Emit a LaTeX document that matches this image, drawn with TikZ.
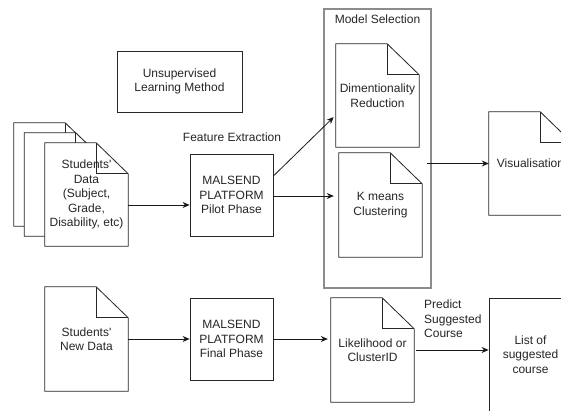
\documentclass[tikz,border=0pt]{standalone}
\usepackage{fontspec}
\setmainfont{Liberation Sans}
\usetikzlibrary{calc,arrows.meta}
\tikzset{
  lineclr/.style={draw=black!85, line width=0.8pt},
  box/.style={lineclr, rectangle, inner sep=0pt, align=center, text=black!85},
  docnode/.style={rectangle, inner sep=0pt, minimum width=83pt, minimum height=103pt, align=center, text=black!85},
  lbl/.style={inner sep=0pt, text=black!85},
  arr/.style={draw=black!90, line width=0.8pt, -{Stealth[length=7pt,width=6pt]}},
  grp/.style={draw=black!45, line width=1.3pt, rectangle, inner sep=0pt}
}
\newcommand\docout[1]{%
  \filldraw[lineclr, fill=white] (#1.north west) -- ($(#1.north east)+(-32,0)$) -- ($(#1.north east)+(0,31)$) -- (#1.south east) -- (#1.south west) -- cycle;
  \draw[lineclr] ($(#1.north east)+(-32,0)$) |- ($(#1.north east)+(0,31)$);}
\newcommand\apos{\textquotesingle}
\begin{document}
\begin{tikzpicture}[x=1pt, y=-1pt, every node/.style={font=\fontsize{12}{14.5}\selectfont}]
\useasboundingbox (0,0) rectangle (561,411);
\fill[white] (0,0) rectangle (561,411);
\clip (0,0) rectangle (561,411);

% group box
\node[grp, minimum width=107pt, minimum height=279pt] (grp) at (377.5,148.5) {};
\node[lbl] (grplbl) at (377.5,19) {Model Selection};

% unsupervised
\node[box, minimum width=125pt, minimum height=61pt] (uns) at (179.5,81.5) {Unsupervised\\Learning Method};

% stacked documents
\node[docnode] (back) at (55.5,174.5) {};
\docout{back}
\node[docnode] (mid) at (66,184.5) {};
\docout{mid}
\node[docnode] (front) at (86.5,194.5) {};
\docout{front}
\node[docnode] (fronttxt) at (86.5,194.5) {Students\apos\\Data\\(Subject,\\Grade,\\Disability, etc)};

% pilot
\node[lbl] (fe) at (232,137) {Feature Extraction};
\node[box, minimum width=83pt, minimum height=82pt] (pilot) at (231.5,195) {MALSEND\\PLATFORM\\Pilot Phase};

% model docs
\node[docnode] (dim) at (377.5,95.5) {};
\docout{dim}
\node[docnode] (dimt) at (377.5,95.5) {Dimentionality\\Reduction};
\node[docnode, minimum height=104pt] (km) at (380.5,205) {};
\docout{km}
\node[docnode, minimum height=104pt] (kmt) at (380.5,205) {K means\\Clustering};

% visualisation
\node[docnode] (vis) at (530.5,163.5) {};
\docout{vis}
\node[docnode] (vist) at (530.5,163.5) {Visualisation};

% bottom row
\node[docnode, minimum height=104pt] (new) at (86.5,339) {};
\docout{new}
\node[docnode, minimum height=104pt] (newt) at (86.5,339) {Students\apos\\New Data};
\node[box, minimum width=83pt, minimum height=82pt] (final) at (231.5,339) {MALSEND\\PLATFORM\\Final Phase};
\node[docnode, minimum height=104pt] (lik) at (372.5,350) {};
\docout{lik}
\node[docnode, minimum height=104pt] (likt) at (372.5,350) {Likelihood or\\ClusterID};
\node[lbl, align=left, anchor=north west] (pred) at (424,300) {Predict\\Suggested\\Course};
\node[box, minimum width=83pt, minimum height=113pt] (list) at (530.5,354.5) {List of\\suggested\\course};

% arrows
\draw[arr] ($(front.east)+(0,10.5)$) -- ($(pilot.west)+(0,10)$);
\draw[arr, shorten >=3pt] ($(pilot.east)+(0,-19)$) -- ($(dim.west)+(0,19.5)$);
\draw[arr, shorten >=5pt] ($(pilot.east)+(0,1)$) -- ($(pilot.east -| km.west)+(0,1)$);
\draw[arr] ($(grp.east |- vis.west)+(-5,0)$) -- (vis.west);
\draw[arr] (new.east) -- (final.west);
\draw[arr, shorten >=3pt] (final.east) -- (final.east -| lik.west);
\draw[arr, shorten <=2pt] (lik.east) -- (lik.east -| list.west);
\end{tikzpicture}
\end{document}
